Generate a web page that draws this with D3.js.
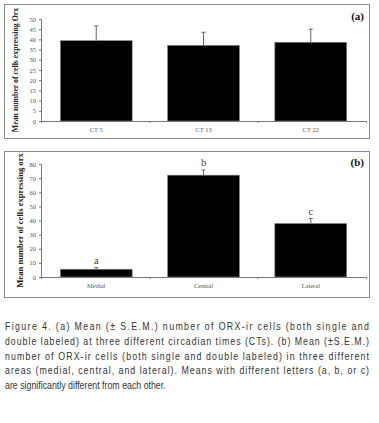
<!DOCTYPE html>
<html>
<head>
<meta charset="utf-8">
<script src="https://cdn.jsdelivr.net/npm/d3@7"></script>
<style>
  body { margin: 0; background: #fff; }
  svg { display: block; }
</style>
</head>
<body>
<svg id="fig" width="379" height="423"></svg>
<script>
// panel (a): circadian times
const ctCategories = ["CT 5", "CT 13", "CT 22"];
const ctMeans = [39.4, 37.1, 38.6];
const ctSem = [7.2, 6.4, 6.4];
const ctTicks = [0, 5, 10, 15, 20, 25, 30, 35, 40, 45, 50];

// panel (b): areas
const areaCategories = ["Medial", "Central", "Lateral"];
const areaMeans = [5.5, 72.1, 37.9];
const areaSem = [1.1, 3.6, 3.5];
const areaLetters = ["a", "b", "c"];
const areaTicks = [0, 10, 20, 30, 40, 50, 60, 70, 80];

const captionLines = [
  "Figure 4.  (a) Mean (\u00b1 S.E.M.) number of ORX-ir cells (both single and",
  "double labeled) at three different circadian times (CTs). (b) Mean (\u00b1S.E.M.)",
  "number of ORX-ir cells (both single and double labeled) in three different",
  "areas (medial, central, and lateral). Means with different letters (a, b, or c)",
  "are significantly different from each other."
];

const svg = d3.select("#fig");
const serif = "'Liberation Serif', 'DejaVu Serif', serif";

function drawPanel(opt) {
  const g = svg.append("g");

  // frame
  g.append("rect")
    .attr("x", opt.box[0] + 0.5).attr("y", opt.box[1] + 0.5)
    .attr("width", opt.box[2]).attr("height", opt.box[3])
    .attr("fill", "#fff").attr("stroke", "#888").attr("stroke-width", 1);

  const x = d3.scaleBand()
    .domain(opt.categories)
    .range([opt.left, opt.right])
    .paddingInner(0.33).paddingOuter(0.18);

  const y = d3.scaleLinear()
    .domain([0, opt.max])
    .range([opt.bottom, opt.top]);

  // y axis
  const yAxis = g.append("g")
    .attr("transform", `translate(${opt.left},0)`)
    .call(d3.axisLeft(y).tickValues(opt.ticks).tickSize(2).tickPadding(3));
  yAxis.select(".domain").attr("stroke", "#777");
  yAxis.selectAll(".tick line").attr("stroke", "#777");
  yAxis.selectAll("text").attr("fill", "#555")
    .style("font-family", serif).style("font-size", "6.5px");

  // x axis line with ticks at category boundaries
  const xs = d3.scaleLinear().domain([0, opt.categories.length]).range([opt.left, opt.right]);
  const xAxis = g.append("g")
    .attr("transform", `translate(0,${opt.bottom})`)
    .call(d3.axisBottom(xs).ticks(opt.categories.length).tickSize(2).tickFormat(""));
  xAxis.select(".domain").attr("stroke", "#777");
  xAxis.selectAll(".tick line").attr("stroke", "#777");

  g.selectAll(".cat")
    .data(opt.categories)
    .enter().append("text")
    .attr("x", d => x(d) + x.bandwidth() / 2)
    .attr("y", opt.bottom + 11)
    .attr("text-anchor", "middle")
    .attr("fill", "#555")
    .style("font-family", serif).style("font-size", "6.5px")
    .text(d => d);

  // error bars (upper only)
  const err = g.selectAll(".err")
    .data(opt.categories)
    .enter().append("g");
  err.append("line")
    .attr("x1", d => x(d) + x.bandwidth() / 2)
    .attr("x2", d => x(d) + x.bandwidth() / 2)
    .attr("y1", (d, i) => y(opt.means[i]))
    .attr("y2", (d, i) => y(opt.means[i] + opt.sem[i]))
    .attr("stroke", "#666").attr("stroke-width", 1);
  err.append("line")
    .attr("x1", d => x(d) + x.bandwidth() / 2 - 2)
    .attr("x2", d => x(d) + x.bandwidth() / 2 + 2)
    .attr("y1", (d, i) => y(opt.means[i] + opt.sem[i]))
    .attr("y2", (d, i) => y(opt.means[i] + opt.sem[i]))
    .attr("stroke", "#666").attr("stroke-width", 1);

  // bars
  g.selectAll(".bar")
    .data(opt.categories)
    .enter().append("rect")
    .attr("x", d => x(d))
    .attr("y", (d, i) => y(opt.means[i]))
    .attr("width", x.bandwidth())
    .attr("height", (d, i) => opt.bottom - y(opt.means[i]))
    .attr("fill", "#000")
    .attr("stroke", "#888").attr("stroke-width", 0.6);

  // letters
  if (opt.letters) {
    g.selectAll(".letter")
      .data(opt.categories)
      .enter().append("text")
      .attr("x", d => x(d) + x.bandwidth() / 2)
      .attr("y", (d, i) => y(opt.means[i] + opt.sem[i]) - 4)
      .attr("text-anchor", "middle")
      .attr("fill", "#444")
      .style("font-family", serif).style("font-size", "10.5px")
      .text((d, i) => opt.letters[i]);
  }

  // y label
  g.append("text")
    .attr("transform", `translate(${opt.labelX},${(opt.top + opt.bottom) / 2}) rotate(-90)`)
    .attr("text-anchor", "middle")
    .attr("fill", "#222")
    .style("font-family", serif).style("font-weight", "bold")
    .style("font-size", opt.labelSize + "px")
    .text(opt.label);

  // panel tag
  g.append("text")
    .attr("x", opt.right - 2)
    .attr("y", opt.top + opt.tagDy)
    .attr("text-anchor", "end")
    .attr("fill", "#111")
    .style("font-family", serif).style("font-weight", "bold").style("font-size", "11px")
    .text(opt.tag);
}

drawPanel({
  box: [4, 4, 365, 134],
  categories: ctCategories, means: ctMeans, sem: ctSem,
  ticks: ctTicks, max: 50,
  left: 41, right: 366, top: 19, bottom: 121,
  label: "Mean number of cells expressing Orx", labelX: 18, labelSize: 7.8,
  tag: "(a)", tagDy: 1
});

drawPanel({
  box: [4, 151, 365, 146],
  categories: areaCategories, means: areaMeans, sem: areaSem, letters: areaLetters,
  ticks: areaTicks, max: 80,
  left: 41, right: 366, top: 164, bottom: 277,
  label: "Mean number of cells expressing orx", labelX: 23, labelSize: 8.6,
  tag: "(b)", tagDy: 2
});

// caption: condensed look via horizontal scaling
const sx = 0.8;
const cap = svg.append("g")
  .attr("transform", `translate(5,0) scale(${sx},1)`)
  .style("font-family", "'Liberation Sans', Arial, sans-serif")
  .style("font-size", "11px")
  .style("white-space", "pre")
  .attr("fill", "#333");
cap.selectAll("text")
  .data(captionLines)
  .enter().append("text")
  .attr("x", 0)
  .attr("y", (d, i) => 330 + i * 14.8)
  .attr("textLength", (d, i) => i < captionLines.length - 1 ? 364 / sx : null)
  .attr("lengthAdjust", "spacing")
  .text(d => d);
</script>
</body>
</html>
